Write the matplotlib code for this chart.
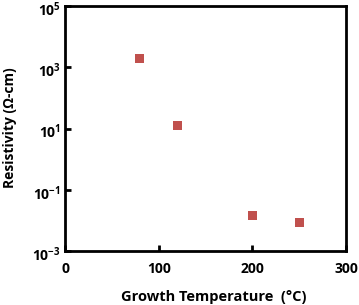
import matplotlib
matplotlib.use("Agg")
import matplotlib.pyplot as plt
import matplotlib.transforms as mtrans
from matplotlib.ticker import FixedLocator, FixedFormatter

plt.rcParams['font.family'] = ['Open Sans', 'DejaVu Sans']
plt.rcParams['font.weight'] = 'bold'
plt.rcParams['mathtext.fontset'] = 'custom'
plt.rcParams['mathtext.rm'] = 'Open Sans:bold'
plt.rcParams['mathtext.bf'] = 'Open Sans:bold'
plt.rcParams['mathtext.it'] = 'Open Sans:bold'

temperature = [80, 120, 200, 250]
resistivity = [1900, 13, 0.014, 0.0084]
x_ticks = [0, 100, 200, 300]
y_ticks = [1e-3, 1e-1, 1e1, 1e3, 1e5]
y_tick_labels = [r'$10^{-3}$', r'$10^{-1}$', r'$10^{1}$', r'$10^{3}$', r'$10^{5}$']

fig = plt.figure(figsize=(3.59, 3.05), dpi=100)
ax = fig.add_axes([65/359, 1-251/305, 281/359, 245/305])
ax.scatter(temperature, resistivity, marker='s', s=42, color='#C0504D', edgecolors='none', zorder=3)
ax.set_yscale('log')
ax.set_xlim(0, 300)
ax.set_ylim(1e-3, 1e5)
ax.xaxis.set_major_locator(FixedLocator(x_ticks))
ax.yaxis.set_major_locator(FixedLocator(y_ticks))
ax.yaxis.set_major_formatter(FixedFormatter(y_tick_labels))
ax.yaxis.set_minor_locator(FixedLocator([]))
for s in ax.spines.values():
    s.set_linewidth(2)
ax.tick_params(direction='in', width=2, length=4, labelsize=10)
ax.tick_params(axis='x', pad=8)
ax.tick_params(axis='y', pad=3)
shift = mtrans.ScaledTranslation(0, -2/100, fig.dpi_scale_trans)
for lab in ax.get_yticklabels():
    lab.set_transform(lab.get_transform() + shift)
ax.set_xlabel('Growth Temperature  (°C)', fontsize=10.5, fontweight='bold', va='center')
ax.xaxis.set_label_coords((214 - 65) / 281, (251 - 297) / 245)
ax.set_ylabel('Resistivity (Ω-cm)', fontsize=10, fontweight='bold', va='center')
ax.yaxis.set_label_coords((10 - 65) / 281, (251 - 128) / 245)
fig.savefig('out.png', dpi=100)
